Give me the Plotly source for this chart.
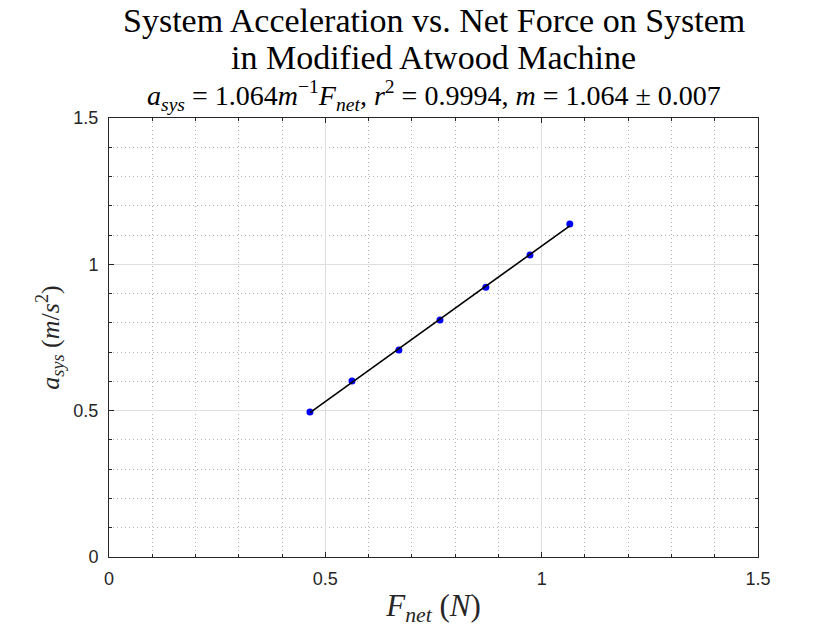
import numpy as np
import plotly.graph_objects as go

# Data
f_net = [0.4645, 0.5616, 0.670, 0.765, 0.871, 0.973, 1.065]
a_sys = [0.4954, 0.601, 0.707, 0.810, 0.922, 1.032, 1.138]

tick_vals = [0, 0.5, 1, 1.5]
tick_text = ["0", "0.5", "1", "1.5"]

title_line1 = "System Acceleration vs. Net Force on System"
title_line2 = "in Modified Atwood Machine"
subtitle = ("<i>a</i><sub><i>sys</i></sub> = 1.064<i>m</i><sup>−1</sup><i>F</i><sub><i>net</i></sub>, "
            "<i>r</i><sup>2</sup> = 0.9994, <i>m</i> = 1.064 ± 0.007")

x = np.array(f_net)
y = np.array(a_sys)
k = float((x * y).sum() / (x * x).sum())
fit_x = [float(x.min()), float(x.max())]
fit_y = [k * v for v in fit_x]

serif = "Liberation Serif"
sans = "Liberation Sans"

fig = go.Figure()
fig.add_trace(go.Scatter(x=f_net, y=a_sys, mode="markers",
                         marker=dict(color="#0000ff", size=7, line=dict(width=0)),
                         showlegend=False))
fig.add_trace(go.Scatter(x=fit_x, y=fit_y, mode="lines",
                         line=dict(color="black", width=1.6), showlegend=False))

axis_common = dict(
    range=[0, 1.5],
    tickmode="array", tickvals=tick_vals, ticktext=tick_text,
    showline=True, linecolor="#262626", linewidth=1, mirror="ticks",
    ticks="inside", ticklen=5, tickcolor="#262626", tickwidth=1,
    showgrid=True, gridcolor="#dedede", gridwidth=1,
    zeroline=False,
    minor=dict(dtick=0.1, tick0=0, ticks="inside", ticklen=3, tickcolor="#262626",
               showgrid=True, gridcolor="#b4b4b4", griddash="1px,3px", gridwidth=1),
)

fig.update_xaxes(**axis_common)
fig.update_yaxes(**axis_common)
fig.update_xaxes(tickfont=dict(family=sans, size=18, color="#262626"), ticklabelstandoff=5,
                 title=dict(text="<i>F</i><sub><i>net</i></sub> (<i>N</i>)",
                            font=dict(family=serif, size=31, color="#262626"), standoff=6))
fig.update_yaxes(tickfont=dict(family=sans, size=18, color="#262626"), ticklabelstandoff=6,
                 title=dict(text="<i>a</i><sub><i>sys</i></sub> (<i>m</i>/<i>s</i><sup>2</sup>)",
                            font=dict(family=serif, size=26, color="#262626"), standoff=6))

fig.update_layout(
    width=840, height=630,
    margin=dict(l=109, r=82, t=118, b=73),
    plot_bgcolor="white", paper_bgcolor="white",
    annotations=[
        dict(text=title_line1, xref="paper", yref="paper", x=0.5, y=1, xanchor="center",
             yanchor="middle", yshift=118 - 20, showarrow=False,
             font=dict(family=serif, size=34, color="black")),
        dict(text=title_line2, xref="paper", yref="paper", x=0.5, y=1, xanchor="center",
             yanchor="middle", yshift=118 - 57, showarrow=False,
             font=dict(family=serif, size=34, color="black")),
        dict(text=subtitle, xref="paper", yref="paper", x=0.5, y=1, xanchor="center",
             yanchor="middle", yshift=118 - 95, showarrow=False,
             font=dict(family=serif, size=28, color="black")),
    ],
)

fig.write_html("out.html")
